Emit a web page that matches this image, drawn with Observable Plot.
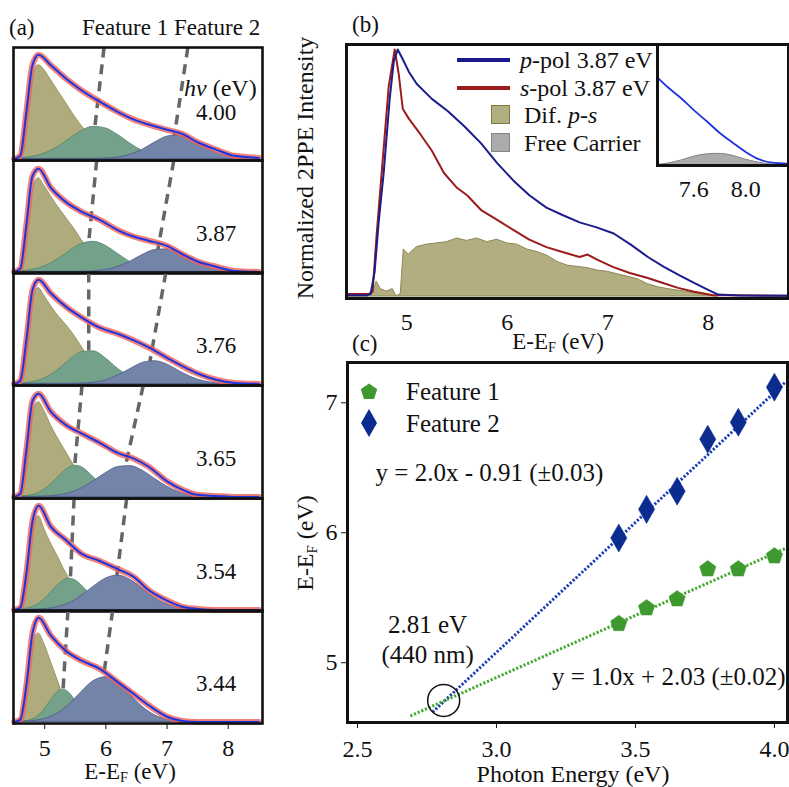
<!DOCTYPE html>
<html><head><meta charset="utf-8">
<script src="https://cdn.jsdelivr.net/npm/d3@7"></script>
<script src="https://cdn.jsdelivr.net/npm/@observablehq/plot@0.6"></script>
<style>
body{margin:0;background:#fff}
#root{position:relative;width:789px;height:787px;overflow:hidden;font-family:"Liberation Serif","Times New Roman",serif;color:#111;background:#fff}
.box{position:absolute}
.lbl{position:absolute;white-space:nowrap;line-height:1}
sub{font-size:0.62em;vertical-align:-0.28em;line-height:0}
</style></head><body><div id="root"></div>
<script>
// ---------- Panel (a): 2PPE spectra and fitted components ----------
const hv = [4.00, 3.87, 3.76, 3.65, 3.54, 3.44];
const compX = [4.5,4.6,4.7,4.8,4.9,5.0,5.1,5.2,5.3,5.4,5.5,5.6,5.8,6.0,6.2,6.4,6.6,6.8,7.0,7.2,7.4,7.6,7.8,8.0,8.2,8.5];
const yellowComp = [
 [0,0.02,0.30,0.78,0.90,0.85,0.76,0.67,0.58,0.49,0.40,0.32,0.18,0.08,0.02,0,0,0,0,0,0,0,0,0,0,0],
 [0,0.02,0.30,0.78,0.90,0.82,0.73,0.64,0.56,0.48,0.40,0.31,0.17,0.07,0.02,0,0,0,0,0,0,0,0,0,0,0],
 [0,0.02,0.30,0.80,0.92,0.84,0.75,0.67,0.60,0.53,0.45,0.36,0.20,0.08,0.02,0,0,0,0,0,0,0,0,0,0,0],
 [0,0.02,0.30,0.80,0.91,0.82,0.69,0.58,0.48,0.38,0.28,0.20,0.08,0.02,0,0,0,0,0,0,0,0,0,0,0,0],
 [0,0.02,0.30,0.80,0.90,0.77,0.64,0.53,0.41,0.30,0.20,0.12,0.04,0.01,0,0,0,0,0,0,0,0,0,0,0,0],
 [0,0.02,0.28,0.72,0.85,0.74,0.58,0.42,0.26,0.14,0.06,0.02,0,0,0,0,0,0,0,0,0,0,0,0,0,0]
];
const greenComp = [
 [0.003,0.007,0.012,0.020,0.033,0.052,0.077,0.109,0.147,0.188,0.229,0.266,0.308,0.293,0.229,0.147,0.077,0.033,0.012,0.003,0.001,0,0,0,0,0],
 [0.003,0.006,0.011,0.020,0.034,0.054,0.081,0.115,0.155,0.197,0.236,0.267,0.289,0.250,0.172,0.094,0.041,0.014,0.004,0.001,0,0,0,0,0,0],
 [0.002,0.004,0.009,0.017,0.031,0.053,0.085,0.126,0.174,0.225,0.271,0.304,0.313,0.244,0.144,0.065,0.022,0.006,0.001,0,0,0,0,0,0,0],
 [0.001,0.003,0.008,0.018,0.038,0.071,0.118,0.176,0.235,0.281,0.300,0.287,0.188,0.079,0.021,0.004,0.001,0,0,0,0,0,0,0,0,0],
 [0.002,0.005,0.012,0.028,0.057,0.103,0.163,0.227,0.278,0.300,0.285,0.238,0.114,0.033,0.006,0.001,0,0,0,0,0,0,0,0,0,0],
 [0.001,0.002,0.007,0.023,0.059,0.122,0.205,0.280,0.310,0.280,0.205,0.122,0.023,0.002,0,0,0,0,0,0,0,0,0,0,0,0]
];
const blueComp = [
 [0,0,0,0,0,0,0,0,0,0,0,0,0.001,0.004,0.014,0.040,0.089,0.157,0.214,0.228,0.189,0.122,0.061,0.024,0.007,0.001],
 [0,0,0,0,0,0,0,0,0,0,0,0.001,0.006,0.019,0.049,0.099,0.162,0.210,0.217,0.179,0.118,0.062,0.026,0.009,0.002,0],
 [0,0,0,0,0,0,0,0,0,0.001,0.002,0.003,0.012,0.035,0.080,0.143,0.201,0.219,0.187,0.123,0.064,0.026,0.008,0.002,0,0],
 [0,0,0,0.001,0.002,0.004,0.007,0.013,0.022,0.035,0.055,0.080,0.150,0.229,0.288,0.296,0.251,0.174,0.099,0.046,0.018,0.006,0.001,0,0,0],
 [0,0,0,0.002,0.004,0.008,0.014,0.025,0.041,0.064,0.095,0.133,0.223,0.302,0.330,0.289,0.205,0.117,0.054,0.020,0.006,0.001,0,0,0,0],
 [0,0.002,0.004,0.008,0.016,0.028,0.048,0.077,0.116,0.166,0.224,0.286,0.392,0.430,0.375,0.261,0.145,0.064,0.023,0.006,0.001,0,0,0,0,0]
];
const fitX = [4.5,4.6,4.7,4.8,4.9,5.1,5.35,5.6,5.9,6.2,6.45,6.7,7.0,7.25,7.5,7.8,8.1,8.5];
const fitY = [
 [0,0.03,0.45,0.90,1.00,0.90,0.77,0.66,0.55,0.45,0.38,0.33,0.28,0.24,0.16,0.09,0.03,0.01],
 [0,0.03,0.45,0.92,0.99,0.81,0.67,0.58,0.50,0.40,0.34,0.30,0.25,0.17,0.10,0.05,0.01,0],
 [0,0.03,0.42,0.90,1.00,0.87,0.74,0.64,0.54,0.48,0.42,0.35,0.25,0.17,0.10,0.04,0.01,0],
 [0,0.03,0.45,0.92,0.99,0.82,0.69,0.61,0.52,0.42,0.37,0.29,0.15,0.07,0.02,0.01,0,0],
 [0,0.02,0.35,0.85,1.00,0.80,0.67,0.54,0.47,0.39,0.32,0.19,0.09,0.03,0.01,0,0,0],
 [0,0.02,0.35,0.85,1.00,0.83,0.68,0.59,0.51,0.38,0.27,0.16,0.05,0.01,0,0,0,0]
];
const feat1Top = [5.97, 5.85, 5.72, 5.61, 5.48, 5.38];
const feat2Top = [7.34, 7.11, 6.98, 6.61, 6.34, 6.11];

// ---------- Panel (b) ----------
const pX = [4.40,4.60,4.64,4.68,4.72,4.77,4.83,4.87,4.91,4.96,5.02,5.10,5.25,5.41,5.57,5.74,5.90,6.06,6.22,6.39,6.55,6.72,6.89,7.06,7.23,7.40,7.56,7.72,7.86,8.00,8.10,8.30,8.80];
const pY = [0.005,0.005,0.01,0.10,0.30,0.50,0.80,0.95,1.00,0.96,0.91,0.86,0.80,0.75,0.69,0.62,0.54,0.47,0.41,0.36,0.33,0.30,0.28,0.255,0.21,0.16,0.12,0.085,0.055,0.027,0.008,0.004,0.003];
const sX = [4.40,4.62,4.66,4.70,4.76,4.82,4.88,4.92,4.96,5.02,5.13,5.25,5.37,5.50,5.60,5.74,5.90,6.06,6.22,6.39,6.55,6.72,6.80,6.89,7.05,7.22,7.40,7.55,7.70,7.85,8.05,8.30,8.80];
const sY = [0.01,0.01,0.02,0.25,0.55,0.85,1.00,0.90,0.76,0.72,0.66,0.59,0.50,0.44,0.41,0.35,0.31,0.27,0.23,0.20,0.18,0.16,0.17,0.15,0.12,0.095,0.075,0.055,0.035,0.02,0.005,0.005,0.003];
const difX = [4.40,4.62,4.66,4.70,4.74,4.80,4.86,4.90,4.94,4.97,5.02,5.10,5.20,5.30,5.40,5.50,5.60,5.70,5.80,5.90,6.00,6.10,6.20,6.30,6.40,6.50,6.60,6.70,6.80,6.90,7.00,7.10,7.20,7.30,7.40,7.50,7.60,7.70,7.80,7.90,8.00,8.10];
const difY = [0,0,0.01,0.06,0.03,0.02,0.03,0.0,0.01,0.19,0.17,0.20,0.21,0.215,0.22,0.235,0.225,0.235,0.22,0.23,0.215,0.21,0.19,0.18,0.165,0.14,0.125,0.12,0.115,0.105,0.10,0.09,0.08,0.07,0.05,0.038,0.03,0.024,0.018,0.01,0.004,0];
const insetX = [7.32,7.40,7.50,7.60,7.70,7.80,7.90,8.00,8.10,8.20,8.33];
const insetP = [0.18,0.16,0.138,0.113,0.09,0.066,0.046,0.027,0.012,0.005,0.003];
const insetFree = [0,0.003,0.009,0.017,0.022,0.023,0.019,0.011,0.005,0.001,0];

// ---------- Panel (c) ----------
const photonE = [3.44, 3.54, 3.65, 3.76, 3.87, 4.00];
const feature1 = [5.30, 5.42, 5.49, 5.72, 5.72, 5.82];
const feature2 = [5.96, 6.18, 6.32, 6.72, 6.85, 7.12];
const fit1X = [2.69, 4.04], fit1Y = [4.59, 5.88];
const fit2X = [2.77, 4.04], fit2Y = [4.62, 7.16];
const crossX = 2.81, crossY = 4.71;
const eq1 = "y = 1.0x + 2.03 (±0.02)";
const eq2 = "y = 2.0x - 0.91 (±0.03)";
const crossText = ["2.81 eV", "(440 nm)"];

// ---------- helpers ----------
const root = document.getElementById("root");
const FONT = '"Liberation Serif", "Times New Roman", serif';
const baseStyle = {fontFamily: FONT, fontSize: "24px", background: "transparent", overflow: "visible", maxWidth: "none", color: "#111"};
function place(node, left, top) {
  const d = document.createElement("div");
  d.className = "box"; d.style.left = left + "px"; d.style.top = top + "px";
  d.appendChild(node); root.appendChild(d);
}
function lbl(html, x, y, size = 24, anchor = "start", rotate = false) {
  const d = document.createElement("div");
  d.className = "lbl"; d.innerHTML = html;
  d.style.left = x + "px"; d.style.top = y + "px"; d.style.fontSize = size + "px";
  const tx = anchor === "middle" ? "-50%" : anchor === "end" ? "-100%" : "0";
  d.style.transform = `translate(${tx},-50%)` + (rotate ? " rotate(-90deg)" : "");
  root.appendChild(d);
}
const rows = (xs, ys) => xs.map((x, i) => ({x, y: ys[i]}));

// ---------- draw panel (a) ----------
const C = {yf: "#b0ab7c", ys: "#8f8a52", gf: "#74a189", gs: "#4d876b", bf: "#7483a8", bs: "#4b5a8c"};
for (let p = 0; p < 6; p++) {
  const last = p === 5;
  const k = photonE.indexOf(hv[p]);
  const gPeak = d3.max(greenComp[p]), bPeak = d3.max(blueComp[p]);
  const ch = Plot.plot({
    width: 270, height: last ? 113 + 64 : 113,
    marginLeft: 13, marginRight: 8, marginTop: 0, marginBottom: last ? 64 : 0,
    x: {domain: [4.49, 8.56], ticks: [5, 6, 7, 8], tickFormat: "d", tickSize: 6, tickPadding: 9, label: null, axis: last ? "bottom" : null},
    y: {domain: [-0.015, 1.07], axis: null},
    style: baseStyle,
    marks: [
      Plot.areaY(rows(compX, yellowComp[p]), {x: "x", y: "y", curve: "monotone-x", fill: C.yf, stroke: C.ys, strokeWidth: 0.8}),
      Plot.areaY(rows(compX, greenComp[p]), {x: "x", y: "y", curve: "monotone-x", fill: C.gf, stroke: C.gs, strokeWidth: 0.8}),
      Plot.areaY(rows(compX, blueComp[p]), {x: "x", y: "y", curve: "monotone-x", fill: C.bf, stroke: C.bs, strokeWidth: 0.8}),
      Plot.link([0], {x1: feat1Top[p], y1: 1.07, x2: feature1[k], y2: gPeak, stroke: "#666", strokeWidth: 3.5, strokeDasharray: "10,7", strokeLinecap: "butt"}),
      Plot.link([0], {x1: feat2Top[p], y1: 1.07, x2: feature2[k], y2: bPeak, stroke: "#666", strokeWidth: 3.5, strokeDasharray: "10,7", strokeLinecap: "butt"}),
      Plot.line(rows(fitX, fitY[p]), {x: "x", y: "y", curve: "monotone-x", stroke: "#f0625a", strokeWidth: 6, strokeOpacity: 0.8}),
      Plot.line(rows(fitX, fitY[p]), {x: "x", y: "y", curve: "monotone-x", stroke: "#1d35e0", strokeWidth: 2}),
      Plot.text([hv[p]], {x: 7.8, y: p === 0 ? 0.44 : 0.37, text: d => d.toFixed(2), fontSize: 23, fill: "#111"}),
      Plot.frame({stroke: "#111", strokeWidth: 2.6})
    ]
  });
  place(ch, 0, 47 + p * 112.67);
}
lbl("(a)", 9, 27, 23);
lbl("Feature 1 Feature 2", 82, 27, 23);
lbl("<i>hν</i> (eV)", 184, 88, 24);
lbl("E-E<sub>F</sub> (eV)", 130, 771, 23, "middle");

// ---------- draw panel (b) ----------
const chB = Plot.plot({
  width: 509, height: 360, marginLeft: 66, marginRight: 1, marginTop: 44, marginBottom: 62,
  x: {domain: [4.40, 8.80], ticks: [5, 6, 7, 8], tickFormat: "d", tickSize: 0, tickPadding: 14, label: null},
  y: {domain: [-0.008, 1.02], axis: null},
  style: baseStyle,
  marks: [
    Plot.areaY(rows(difX, difY), {x: "x", y: "y", fill: "#b2ae82", stroke: "#8c8854", strokeWidth: 1}),
    Plot.line(rows(sX, sY), {x: "x", y: "y", stroke: "#9c1b1b", strokeWidth: 2}),
    Plot.line(rows(pX, pY), {x: "x", y: "y", stroke: "#1b1b8c", strokeWidth: 2}),
    Plot.frame({stroke: "#111", strokeWidth: 3})
  ]
});
place(chB, 280, 0);
const chInset = Plot.plot({
  width: 149, height: 180, marginLeft: 17, marginRight: 1, marginTop: 14, marginBottom: 45,
  x: {domain: [7.32, 8.33], ticks: [7.6, 8.0], tickFormat: ".1f", tickSize: 0, tickPadding: 14, label: null},
  y: {domain: [-0.001, 0.248], axis: null},
  style: baseStyle,
  marks: [
    Plot.frame({fill: "white"}),
    Plot.areaY(rows(insetX, insetFree), {x: "x", y: "y", curve: "monotone-x", fill: "#ababab", stroke: "#858585", strokeWidth: 1}),
    Plot.line(rows(insetX, insetP), {x: "x", y: "y", curve: "monotone-x", stroke: "#1d35e0", strokeWidth: 1.8}),
    Plot.frame({stroke: "#111", strokeWidth: 3})
  ]
});
place(chInset, 640, 30);
lbl("(b)", 352, 24, 23);
lbl("Normalized 2PPE Intensity", 305, 168, 24, "middle", true);
lbl("E-E<sub>F</sub> (eV)", 558, 341, 23, "middle");
// legend (b)
function swatchLine(y, color) {
  const d = document.createElement("div");
  d.style.cssText = `position:absolute;left:457px;top:${y - 2}px;width:53px;height:4px;background:${color}`;
  root.appendChild(d);
}
function swatchBox(y, fill, stroke) {
  const d = document.createElement("div");
  d.style.cssText = `position:absolute;left:491px;top:${y - 10}px;width:17px;height:17px;background:${fill};border:1.5px solid ${stroke}`;
  root.appendChild(d);
}
swatchLine(60, "#1b1b8c"); swatchLine(88, "#9c1b1b");
swatchBox(115, "#b2ae82", "#7d7a3f"); swatchBox(143, "#ababab", "#858585");
lbl("<i>p</i>-pol 3.87 eV", 520, 60, 24);
lbl("<i>s</i>-pol 3.87 eV", 520, 88, 24);
lbl("Dif. <i>p-s</i>", 524, 115, 24);
lbl("Free Carrier", 524, 143, 24);

// ---------- draw panel (c) ----------
const pentagon = {draw(ctx, size) {
  const r = Math.sqrt(size / Math.PI);
  for (let i = 0; i < 5; i++) {
    const a = -Math.PI / 2 + i * 2 * Math.PI / 5;
    i ? ctx.lineTo(r * Math.cos(a), r * Math.sin(a)) : ctx.moveTo(r * Math.cos(a), r * Math.sin(a));
  }
  ctx.closePath();
}};
const chC = Plot.plot({
  width: 509, height: 447, marginLeft: 67, marginRight: 2, marginTop: 22, marginBottom: 65,
  x: {domain: [2.464, 4.047], ticks: [2.5, 3.0, 3.5, 4.0], tickFormat: ".1f", tickSize: 6, tickPadding: 11, label: null},
  y: {domain: [4.54, 7.31], ticks: [5, 6, 7], tickFormat: "d", tickSize: 6, tickPadding: 4, label: null},
  style: {...baseStyle, fontSize: "24px"},
  marks: [
    Plot.line(rows(fit2X, fit2Y), {x: "x", y: "y", stroke: "#1d3fb5", strokeWidth: 3, strokeDasharray: "2.2,1.8", strokeLinecap: "butt"}),
    Plot.line(rows(fit1X, fit1Y), {x: "x", y: "y", stroke: "#46a832", strokeWidth: 3, strokeDasharray: "2.2,1.8", strokeLinecap: "butt"}),
    Plot.dot(rows(photonE, feature1), {x: "x", y: "y", symbol: pentagon, r: 8.6, fill: "#3e9a2f", stroke: "#3e9a2f", strokeWidth: 0.5}),
    Plot.dot(rows(photonE, feature2), {x: "x", y: "y", symbol: "diamond", r: 8.5, fill: "#0c2b8f", stroke: "#0c2b8f", strokeWidth: 0.5}),
    Plot.dot([{x: crossX, y: crossY}], {x: "x", y: "y", r: 16, stroke: "#111", strokeWidth: 1.5, fill: "none"}),
    Plot.text([eq2], {x: 2.565, y: 6.456, text: d => d, textAnchor: "start", fontSize: 25, fill: "#111"}),
    Plot.text([eq1], {x: 4.04, y: 4.887, text: d => d, textAnchor: "end", fontSize: 25, fill: "#111"}),
    Plot.text(crossText, {x: 2.752, y: (d, i) => i ? 5.056 : 5.287, text: d => d, fontSize: 25, fill: "#111"}),
    Plot.frame({stroke: "#111", strokeWidth: 3})
  ]
});
place(chC, 280, 340);
lbl("(c)", 352, 343, 23);
lbl("Photon Energy (eV)", 573, 774, 24, "middle");
lbl("E-E<sub>F</sub> (eV)", 305, 543, 24, "middle", true);
// legend (c)
const legC = document.createElement("div");
legC.style.cssText = "position:absolute;left:355px;top:375px;width:30px;height:70px";
legC.innerHTML = `<svg width="30" height="70" viewBox="0 0 30 70">
 <polygon fill="#3e9a2f" points="${d3.range(5).map(i => { const a = -Math.PI/2 + i*2*Math.PI/5; return (14 + 8.6*Math.cos(a)) + "," + (17 + 8.6*Math.sin(a)); }).join(" ")}"/>
 <polygon fill="#0c2b8f" points="14,34 22,48 14,62 6,48"/></svg>`;
root.appendChild(legC);
lbl("Feature 1", 406, 391, 25);
lbl("Feature 2", 406, 423, 25);
</script></body></html>
